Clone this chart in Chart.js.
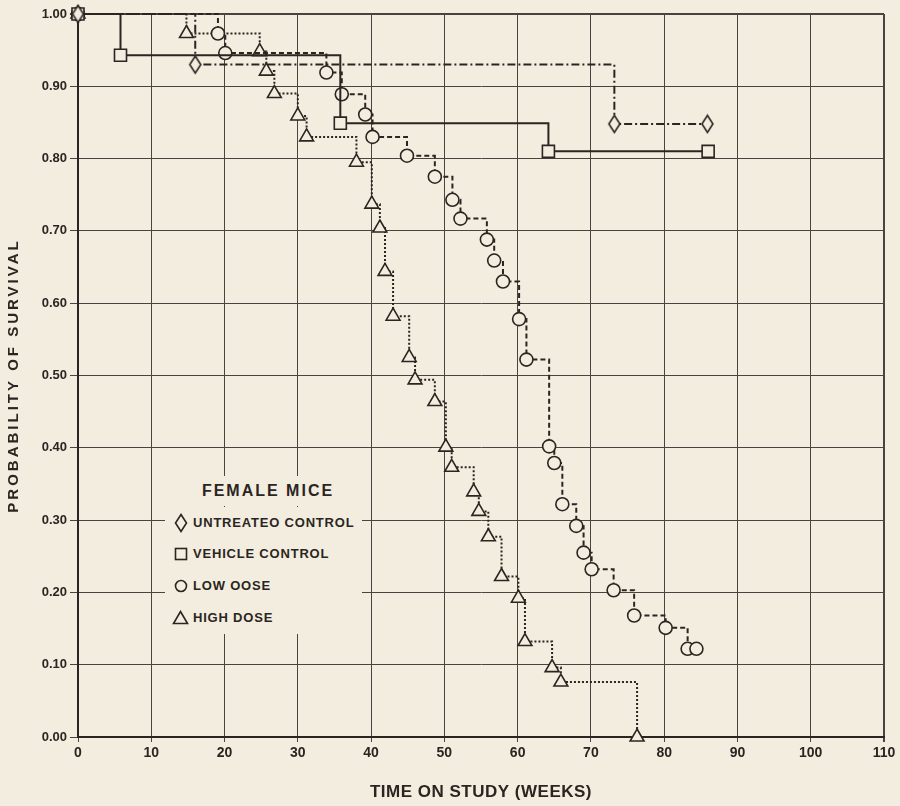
<!DOCTYPE html>
<html>
<head>
<meta charset="utf-8">
<script src="https://cdn.jsdelivr.net/npm/chart.js@4.4.1/dist/chart.umd.min.js"></script>
<style>
  html, body { margin: 0; padding: 0; background: #f2eddf; }
  #wrap { position: relative; width: 900px; height: 806px; }
  #c { position: absolute; left: 0; top: 0; }
  .legbox { position: absolute; background: #f2eddf; color: #2b2522; font-family: "Liberation Sans", Arial, sans-serif; font-weight: bold; }
  #legTitle { left: 190px; top: 476px; width: 156px; height: 30px; line-height: 30px; text-align: center; font-size: 16px; letter-spacing: 2px; }
  #legRows { left: 165px; top: 507px; width: 197px; height: 127px; }
  .row { position: absolute; left: 0; height: 32px; width: 197px; }
  .row svg { position: absolute; }
  .row span { position: absolute; left: 28px; top: 0; line-height: 32px; font-size: 13px; letter-spacing: 0.8px; white-space: nowrap; }
</style>
</head>
<body>
<div id="wrap">
  <canvas id="c" width="900" height="806"></canvas>
  <div id="legTitle" class="legbox"></div>
  <div id="legRows" class="legbox"></div>
</div>
<script>
// ---------------- data ----------------
const legendTitle = 'FEMALE MICE';
const seriesNames = ['UNTREATEO CONTROL', 'VEHICLE CONTROL', 'LOW OOSE', 'HIGH DOSE'];

const untreatedWeeks = [0, 16.0, 73.2, 85.9];
const untreatedSurv  = [1.00, 0.930, 0.848, 0.848];

const vehicleWeeks = [0, 5.8, 35.8, 64.2, 86.0];
const vehicleSurv  = [1.00, 0.943, 0.849, 0.810, 0.810];

const lowDoseWeeks = [0, 19.1, 20.1, 33.9, 36.0, 39.2, 40.2, 44.9, 48.7, 51.1, 52.2, 55.8, 56.8, 58.0,
                      60.2, 61.2, 64.3, 65.0, 66.1, 68.0, 69.0, 70.1, 73.1, 75.9, 80.2, 83.2, 84.4];
const lowDoseSurv  = [1.00, 0.973, 0.946, 0.919, 0.889, 0.861, 0.830, 0.804, 0.775, 0.743, 0.717, 0.688, 0.659, 0.630,
                      0.578, 0.522, 0.402, 0.379, 0.322, 0.292, 0.255, 0.232, 0.203, 0.168, 0.151, 0.122, 0.122];

const highDoseWeeks = [0, 14.8, 24.8, 25.7, 26.8, 30.0, 31.2, 38.0, 40.1, 41.2, 41.9, 43.0, 45.2, 46.0,
                       48.7, 50.2, 51.0, 54.0, 54.7, 56.0, 57.8, 60.1, 61.0, 64.7, 65.9, 76.3];
const highDoseSurv  = [1.00, 0.973, 0.948, 0.921, 0.890, 0.859, 0.830, 0.795, 0.737, 0.704, 0.644, 0.582, 0.525, 0.494,
                       0.464, 0.401, 0.373, 0.339, 0.312, 0.277, 0.222, 0.192, 0.132, 0.096, 0.076, 0.000];

const xTickLabels = ['0', '10', '20', '30', '40', '50', '60', '70', '80', '90', '100', '110'];
const yTickLabels = ['0.00', '0.10', '0.20', '0.30', '0.40', '0.50', '0.60', '0.70', '0.80', '0.90', '1.00'];
const xTitle = 'TIME ON STUDY (WEEKS)';
const yTitle = 'PROBABILITY OF SURVIVAL';

// ---------------- styling ----------------
const INK = '#2b2522';
const BG = '#f2eddf';
const GRID = '#4a4440';

function diamondCanvas(w, h, lw) {
  const c = document.createElement('canvas');
  c.width = w + 4; c.height = h + 4;
  const g = c.getContext('2d');
  const cx = c.width / 2, cy = c.height / 2;
  g.beginPath();
  g.moveTo(cx, cy - h / 2); g.lineTo(cx + w / 2, cy); g.lineTo(cx, cy + h / 2); g.lineTo(cx - w / 2, cy);
  g.closePath();
  g.fillStyle = BG; g.fill();
  g.lineWidth = lw; g.strokeStyle = INK; g.stroke();
  return c;
}
const diamondImg = diamondCanvas(11, 17, 1.6);

function pts(weeks, surv) { return weeks.map((w, i) => ({ x: w, y: surv[i] })); }

// letter spacing for axis titles
const origDrawTitle = Chart.Scale.prototype.drawTitle;
Chart.Scale.prototype.drawTitle = function () {
  const ctx = this.ctx;
  const prev = ctx.letterSpacing;
  ctx.letterSpacing = (this.options.title && this.options.title.spacing) || '0px';
  origDrawTitle.apply(this, arguments);
  ctx.letterSpacing = prev || '0px';
};

const common = { borderColor: INK, borderWidth: 2, stepped: true, fill: false, pointBackgroundColor: BG,
                 pointBorderColor: INK, pointBorderWidth: 1.6, clip: false, tension: 0 };

new Chart(document.getElementById('c'), {
  type: 'line',
  data: {
    datasets: [
      Object.assign({}, common, { label: seriesNames[0], data: pts(untreatedWeeks, untreatedSurv),
        borderDash: [8, 3, 2, 3], pointStyle: diamondImg, pointRadius: 8 }),
      Object.assign({}, common, { label: seriesNames[1], data: pts(vehicleWeeks, vehicleSurv),
        borderDash: [], pointStyle: 'rect', pointRadius: 8.5 }),
      Object.assign({}, common, { label: seriesNames[2], data: pts(lowDoseWeeks, lowDoseSurv),
        borderDash: [5, 3], pointStyle: 'circle', pointRadius: 6.5 }),
      Object.assign({}, common, { label: seriesNames[3], data: pts(highDoseWeeks, highDoseSurv),
        borderDash: [2, 2], pointStyle: 'triangle', pointRadius: 8 })
    ]
  },
  options: {
    responsive: false,
    animation: false,
    layout: { padding: { top: 14, right: 16, left: 0, bottom: 0 } },
    plugins: { legend: { display: false }, tooltip: { enabled: false } },
    scales: {
      x: {
        type: 'linear', min: 0, max: 110,
        afterFit: s => { s.height = 69; },
        ticks: { stepSize: 10, autoSkip: false, maxRotation: 0, padding: 3, color: INK,
                 font: { family: '"Liberation Sans Narrow", "Liberation Sans", Arial, sans-serif', size: 14, weight: 'bold' },
                 callback: v => xTickLabels[Math.round(v / 10)] },
        grid: { color: GRID, lineWidth: c => (c.tick && c.tick.value === 110) ? 2 : 1, tickLength: 5, drawTicks: true },
        border: { display: true, color: INK, width: 2 },
        title: { display: true, text: xTitle, color: INK, spacing: '0.5px',
                 font: { family: '"Liberation Sans", Arial, sans-serif', size: 17, weight: 'bold' },
                 padding: { top: 0, bottom: 3 } }
      },
      y: {
        min: 0, max: 1,
        afterFit: s => { s.width = 78; },
        ticks: { stepSize: 0.1, padding: 3, color: INK,
                 font: { family: '"Liberation Sans", Arial, sans-serif', size: 13, weight: 'bold' },
                 callback: v => yTickLabels[Math.round(v * 10)] },
        grid: { color: GRID, lineWidth: c => (c.tick && Math.abs(c.tick.value - 1) < 1e-6) ? 2 : 1, tickLength: 8, drawTicks: true },
        border: { display: true, color: INK, width: 2 },
        title: { display: true, text: yTitle, color: INK, spacing: '3px',
                 font: { family: '"Liberation Sans", Arial, sans-serif', size: 15, weight: 'bold' },
                 padding: { top: 5, bottom: 0 } }
      }
    }
  }
});

// ---------------- legend (inside plot, as in the reference) ----------------
const symbols = [
  '<svg width="14" height="20" style="left:9px;top:6px"><polygon points="7,1.5 12.5,10 7,18.5 1.5,10" fill="none" stroke="' + INK + '" stroke-width="1.6"/></svg>',
  '<svg width="14" height="14" style="left:9px;top:9px"><rect x="1.5" y="1.5" width="11" height="11" fill="none" stroke="' + INK + '" stroke-width="1.6"/></svg>',
  '<svg width="14" height="14" style="left:9px;top:9px"><circle cx="7" cy="7" r="5.5" fill="none" stroke="' + INK + '" stroke-width="1.6"/></svg>',
  '<svg width="17" height="15" style="left:7px;top:8px"><polygon points="8.5,1.5 15.5,13.5 1.5,13.5" fill="none" stroke="' + INK + '" stroke-width="1.6"/></svg>'
];
document.getElementById('legTitle').textContent = legendTitle;
const rowsEl = document.getElementById('legRows');
const rowCenters = [16, 47, 79, 111];
seriesNames.forEach((name, i) => {
  const r = document.createElement('div');
  r.className = 'row';
  r.style.top = (rowCenters[i] - 16) + 'px';
  r.innerHTML = symbols[i];
  const s = document.createElement('span');
  s.textContent = name;
  r.appendChild(s);
  rowsEl.appendChild(r);
});
</script>
</body>
</html>
